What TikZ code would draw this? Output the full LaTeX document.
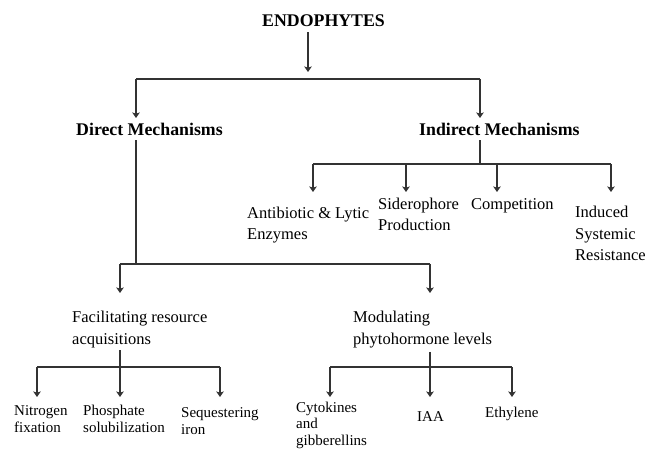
\documentclass[tikz,border=0pt]{standalone}
\usepackage{fontspec}
\setmainfont{Liberation Serif}
\usetikzlibrary{arrows.meta}

\begin{document}
\begin{tikzpicture}[
    x=1pt, y=-1pt,
    line/.style={draw=black!80, line width=1.3pt},
    arr/.style={line, -{Stealth[length=5.5pt, width=7.5pt, inset=1.2pt]}},
    head/.style={font=\bfseries\fontsize{17.8}{20}\selectfont, inner sep=0pt},
    mid/.style={font=\fontsize{16.5}{21.5}\selectfont, align=left, inner sep=0pt},
    leaf/.style={font=\fontsize{15}{16.5}\selectfont, align=left, inner sep=0pt}
  ]
    \useasboundingbox (0,0) rectangle (651,449);

    % nodes sit on the baseline of their last line
    \node[head, anchor=base west] (endo) at (262,27) {ENDOPHYTES};
    \node[head, anchor=base west] (direct) at (76,136) {Direct Mechanisms};
    \node[head, anchor=base west] (indirect) at (419,136) {Indirect Mechanisms};

    \node[mid, anchor=base west] (antib) at (247,240) {Antibiotic \& Lytic\\Enzymes};
    \node[mid, anchor=base west] (sidero) at (378,231) {Siderophore\\Production};
    \node[mid, anchor=base west] (compet) at (471,210) {Competition};
    \node[mid, anchor=base west] (isr) at (575,261) {Induced\\Systemic\\Resistance};
    \node[mid, anchor=base west] (facil) at (72,344) {Facilitating resource\\acquisitions};
    \node[mid, anchor=base west] (modul) at (353,344) {Modulating\\phytohormone levels};

    \node[leaf, anchor=base west] (nitro) at (14,432) {Nitrogen\\fixation};
    \node[leaf, anchor=base west] (phos) at (83,432) {Phosphate\\solubilization};
    \node[leaf, anchor=base west] (seq) at (181,434) {Sequestering\\iron};
    \node[leaf, anchor=base west] (cyto) at (296,445) {Cytokines\\and\\gibberellins};
    \node[leaf, anchor=base west] (iaa) at (417,421) {IAA};
    \node[leaf, anchor=base west] (ethyl) at (485,417) {Ethylene};

    % arrow ends and bars
    \coordinate (endo-in) at (308,72);
    \coordinate (topbar) at (308,79);
    \coordinate (direct-in) at (136,118);
    \coordinate (indirect-in) at (480,118);

    \coordinate (ibar) at (480,164);
    \coordinate (antib-in) at (313,192);
    \coordinate (sidero-in) at (406,192);
    \coordinate (compet-in) at (497,192);
    \coordinate (isr-in) at (611,192);

    \coordinate (dbar) at (136,264);
    \coordinate (facil-in) at (120,293);
    \coordinate (modul-in) at (430,293);

    \coordinate (fbar) at (120,367);
    \coordinate (nitro-in) at (37,397);
    \coordinate (phos-in) at (120,397);
    \coordinate (seq-in) at (220,397);

    \coordinate (mbar) at (430,367);
    \coordinate (cyto-in) at (330,397);
    \coordinate (iaa-in) at (430,397);
    \coordinate (ethyl-in) at (512,397);

    \draw[arr, shorten <=5pt] (endo.south -| endo-in) -- (endo-in);
    \draw[line] (direct-in |- topbar) -- (indirect-in |- topbar);
    \foreach \n in {direct,indirect}
      \draw[arr] (\n-in |- topbar) -- (\n-in);

    \draw[line, shorten <=4pt] (indirect.south -| ibar) -- (ibar);
    \draw[line] (antib-in |- ibar) -- (isr-in |- ibar);
    \foreach \n in {antib,sidero,compet,isr}
      \draw[arr] (\n-in |- ibar) -- (\n-in);

    \draw[line, shorten <=4pt] (direct.south -| dbar) -- (dbar);
    \draw[line] (facil-in |- dbar) -- (modul-in |- dbar);
    \foreach \n in {facil,modul}
      \draw[arr] (\n-in |- dbar) -- (\n-in);

    \draw[line, shorten <=2.5pt] (facil.south -| fbar) -- (fbar);
    \draw[line] (nitro-in |- fbar) -- (seq-in |- fbar);
    \foreach \n in {nitro,phos,seq}
      \draw[arr] (\n-in |- fbar) -- (\n-in);

    \draw[line, shorten <=4pt] (modul.south -| mbar) -- (mbar);
    \draw[line] (cyto-in |- mbar) -- (ethyl-in |- mbar);
    \foreach \n in {cyto,iaa,ethyl}
      \draw[arr] (\n-in |- mbar) -- (\n-in);
  \end{tikzpicture}
\end{document}
